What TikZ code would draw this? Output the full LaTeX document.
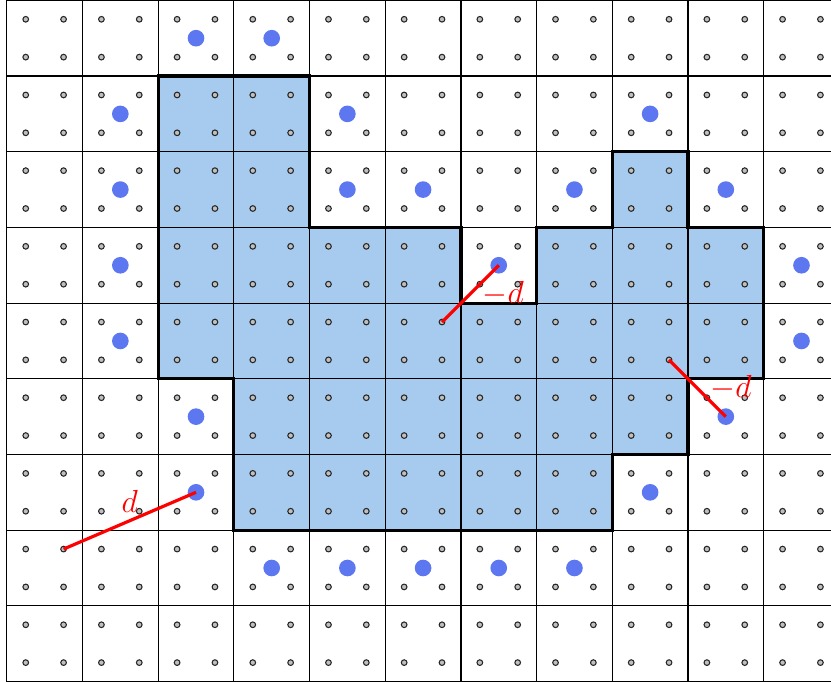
\documentclass[tikz,border=0pt]{standalone}
\definecolor{shade}{RGB}{167,203,239}
\definecolor{bdot}{RGB}{92,119,240}
\definecolor{sdot}{RGB}{192,192,192}
\begin{document}
\begin{tikzpicture}[x=1cm,y=1cm,
  gridline/.style={black, line width=0.45pt},
  smalldot/.style={circle, draw=black!85, fill=sdot, line width=0.4pt, inner sep=0pt, minimum size=0.075cm},
  bigdot/.style={circle, fill=bdot, inner sep=0pt, minimum size=0.22cm},
  region/.style={fill=shade},
  border/.style={black, line width=1.2pt, line join=miter},
  dist/.style={red, line width=1.2pt},
  dlabel/.style={text=red, font=\fontsize{12}{14}\selectfont, inner sep=0pt}]
\useasboundingbox (-0.09,-0.005) rectangle (10.89,9.005);
\clip (-0.09,-0.005) rectangle (10.89,9.005);
% shaded region
\fill[region] (2,8) -- (4,8) -- (4,6) -- (6,6) -- (6,5) -- (7,5) -- (7,6) -- (8,6) -- (8,7) -- (9,7) -- (9,6) -- (10,6) -- (10,4) -- (9,4) -- (9,3) -- (8,3) -- (8,2) -- (3,2) -- (3,4) -- (2,4) -- cycle;
% grid
\draw[gridline] (0,0) grid (11,9);
% small dots
\foreach \i in {0,...,10}{
  \foreach \j in {0,...,8}{
    \node[smalldot] (s-\i-\j-a) at ({\i+0.25},{8.75-\j}) {};
    \node[smalldot] (s-\i-\j-b) at ({\i+0.75},{8.75-\j}) {};
    \node[smalldot] (s-\i-\j-c) at ({\i+0.25},{8.25-\j}) {};
    \node[smalldot] (s-\i-\j-d) at ({\i+0.75},{8.25-\j}) {};
  }
}
% boundary
\draw[border] (2,8) -- (4,8) -- (4,6) -- (6,6) -- (6,5) -- (7,5) -- (7,6) -- (8,6) -- (8,7) -- (9,7) -- (9,6) -- (10,6) -- (10,4) -- (9,4) -- (9,3) -- (8,3) -- (8,2) -- (3,2) -- (3,4) -- (2,4) -- cycle;
% big dots
\foreach \i/\j in {2/0,3/0,1/1,4/1,8/1,1/2,4/2,5/2,7/2,9/2,1/3,6/3,10/3,1/4,10/4,2/5,9/5,2/6,8/6,3/7,4/7,5/7,6/7,7/7}{
  \node[bigdot] (b-\i-\j) at ({\i+0.5},{8.5-\j}) {};
}
% distances
\draw[dist] (s-0-7-b.center) -- (b-2-6.center);
\draw[dist] (s-5-4-b.center) -- (b-6-3.center);
\draw[dist] (s-8-4-d.center) -- (b-9-5.center);
\node[dlabel] (l1) at (1.625,2.38) {$d$};
\node[dlabel] (l2) at (6.56,5.13) {$-d$};
\node[dlabel] (l3) at (9.57,3.88) {$-d$};
\end{tikzpicture}
\end{document}
